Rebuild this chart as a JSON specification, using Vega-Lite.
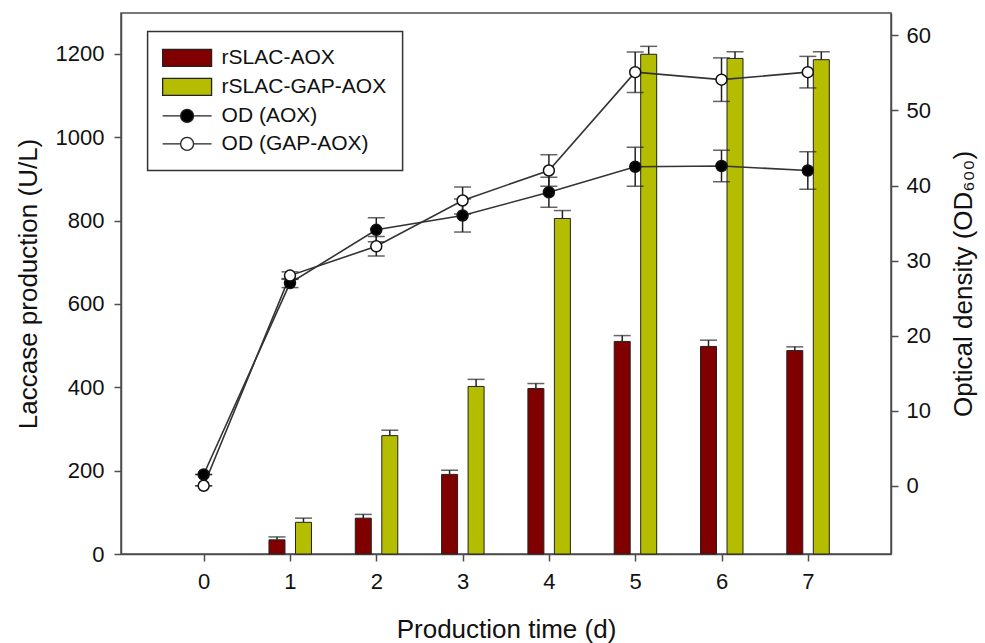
{
  "$schema": "https://vega.github.io/schema/vega-lite/v6.json",
  "width": 770,
  "height": 541,
  "autosize": {"type": "none"},
  "padding": {"left": 121, "top": 13, "right": 94, "bottom": 89},
  "background": "white",
  "config": {
    "font": "Liberation Sans",
    "view": {"stroke": "#4d4d4d", "strokeWidth": 1.5},
    "legend": {"strokeWidth": 1.5},
    "axis": {
      "domainColor": "#4d4d4d", "domainWidth": 1.5,
      "tickColor": "#4d4d4d", "tickWidth": 1.5, "tickSize": 7,
      "labelFont": "Liberation Sans", "labelFontSize": 22, "labelColor": "#111",
      "titleFont": "Liberation Sans", "titleFontSize": 26, "titleFontWeight": "normal", "titleColor": "#111",
      "grid": false, "labelPadding": 8
    }
  },
  "datasets": {
    "bars": [
      {"day": 1, "series": "rSLAC-AOX", "val": 34, "hi": 41},
      {"day": 2, "series": "rSLAC-AOX", "val": 86, "hi": 95},
      {"day": 3, "series": "rSLAC-AOX", "val": 191, "hi": 201},
      {"day": 4, "series": "rSLAC-AOX", "val": 397, "hi": 409},
      {"day": 5, "series": "rSLAC-AOX", "val": 510, "hi": 524},
      {"day": 6, "series": "rSLAC-AOX", "val": 498, "hi": 513},
      {"day": 7, "series": "rSLAC-AOX", "val": 488, "hi": 497},
      {"day": 1, "series": "rSLAC-GAP-AOX", "val": 76, "hi": 86},
      {"day": 2, "series": "rSLAC-GAP-AOX", "val": 284, "hi": 297},
      {"day": 3, "series": "rSLAC-GAP-AOX", "val": 402, "hi": 419},
      {"day": 4, "series": "rSLAC-GAP-AOX", "val": 805, "hi": 824},
      {"day": 5, "series": "rSLAC-GAP-AOX", "val": 1199, "hi": 1218},
      {"day": 6, "series": "rSLAC-GAP-AOX", "val": 1189, "hi": 1205},
      {"day": 7, "series": "rSLAC-GAP-AOX", "val": 1186, "hi": 1205}
    ],
    "od": [
      {"day": 0, "series": "OD (AOX)", "od": 1.5, "lo": 1.5, "hi": 1.5},
      {"day": 1, "series": "OD (AOX)", "od": 27.0, "lo": 26.4, "hi": 27.6},
      {"day": 2, "series": "OD (AOX)", "od": 34.1, "lo": 32.5, "hi": 35.7},
      {"day": 3, "series": "OD (AOX)", "od": 36.0, "lo": 33.8, "hi": 38.2},
      {"day": 4, "series": "OD (AOX)", "od": 39.1, "lo": 37.1, "hi": 41.1},
      {"day": 5, "series": "OD (AOX)", "od": 42.5, "lo": 39.9, "hi": 45.1},
      {"day": 6, "series": "OD (AOX)", "od": 42.6, "lo": 40.5, "hi": 44.7},
      {"day": 7, "series": "OD (AOX)", "od": 42.0, "lo": 39.5, "hi": 44.5},
      {"day": 0, "series": "OD (GAP-AOX)", "od": 0.0, "lo": 0.0, "hi": 0.0},
      {"day": 1, "series": "OD (GAP-AOX)", "od": 28.0, "lo": 27.5, "hi": 28.5},
      {"day": 2, "series": "OD (GAP-AOX)", "od": 31.9, "lo": 30.6, "hi": 33.2},
      {"day": 3, "series": "OD (GAP-AOX)", "od": 38.0, "lo": 36.2, "hi": 39.8},
      {"day": 4, "series": "OD (GAP-AOX)", "od": 42.0, "lo": 39.9, "hi": 44.1},
      {"day": 5, "series": "OD (GAP-AOX)", "od": 55.1, "lo": 52.4, "hi": 57.8},
      {"day": 6, "series": "OD (GAP-AOX)", "od": 54.1, "lo": 51.2, "hi": 57.0},
      {"day": 7, "series": "OD (GAP-AOX)", "od": 55.1, "lo": 53.0, "hi": 57.2}
    ]
  },
  "layer": [
    {
      "data": {"name": "bars"},
      "encoding": {
        "x": {"field": "day", "type": "quantitative",
              "scale": {"domain": [-0.9, 7.906], "nice": false, "zero": false},
              "axis": {"values": [0,1,2,3,4,5,6,7], "format": "d", "title": "Production time (d)", "titlePadding": 24, "labelPadding": 10}},
        "y": {"field": "val", "type": "quantitative",
              "scale": {"domain": [0, 1298], "nice": false, "zero": false},
              "axis": {"values": [0,200,400,600,800,1000,1200], "format": "d", "title": "Laccase production (U/L)", "titlePadding": 14, "labelPadding": 10}}
      },
      "layer": [
        {"transform": [{"filter": "datum.series === 'rSLAC-AOX'"}],
         "mark": {"type": "rule", "xOffset": -13, "color": "#222", "strokeWidth": 1.5},
         "encoding": {"y2": {"field": "hi"}}},
        {"transform": [{"filter": "datum.series === 'rSLAC-GAP-AOX'"}],
         "mark": {"type": "rule", "xOffset": 13.5, "color": "#222", "strokeWidth": 1.5},
         "encoding": {"y2": {"field": "hi"}}},
        {"transform": [{"filter": "datum.series === 'rSLAC-AOX'"}],
         "mark": {"type": "bar", "width": 16, "xOffset": -13, "stroke": "#222", "strokeWidth": 1},
         "encoding": {
           "fill": {"field": "series", "type": "nominal",
                    "scale": {"domain": ["rSLAC-AOX", "rSLAC-GAP-AOX", "OD (AOX)", "OD (GAP-AOX)"],
                              "range": ["#800000", "#b5bd00", "#000000", "#ffffff"]},
                    "legend": {
                      "title": null, "orient": "none", "legendX": 26.6, "legendY": 18.4,
                      "strokeColor": "#333", "fillColor": "white", "padding": 16,
                      "labelFontSize": 21, "labelFont": "Liberation Sans", "labelColor": "#111",
                      "symbolSize": 289, "symbolOffset": 13, "labelOffset": 24, "rowPadding": 6,
                      "symbolStrokeColor": "#222", "symbolStrokeWidth": 1.3, "symbolOpacity": 1,
                      "labelLimit": 400,
                      "encode": {"symbols": {"update": {"shape": {"signal": "(datum.value === 'OD (AOX)' || datum.value === 'OD (GAP-AOX)') ? 'M-2.88,0H-0.76M0.76,0H2.88M0.76,0A0.76,0.76 0 1,1 -0.76,0A0.76,0.76 0 1,1 0.76,0Z' : 'M-2.88,-1H2.88V1H-2.88Z'"}}}}
                    }}
         }},
        {"transform": [{"filter": "datum.series === 'rSLAC-GAP-AOX'"}],
         "mark": {"type": "bar", "width": 16, "xOffset": 13.5, "stroke": "#222", "strokeWidth": 1},
         "encoding": {"fill": {"field": "series", "type": "nominal"}}},
        {"transform": [{"filter": "datum.series === 'rSLAC-AOX'"}],
         "mark": {"type": "tick", "orient": "horizontal", "size": 17, "thickness": 1.5, "xOffset": -13, "color": "#222"},
         "encoding": {"y": {"field": "hi", "type": "quantitative"}}},
        {"transform": [{"filter": "datum.series === 'rSLAC-GAP-AOX'"}],
         "mark": {"type": "tick", "orient": "horizontal", "size": 17, "thickness": 1.5, "xOffset": 13.5, "color": "#222"},
         "encoding": {"y": {"field": "hi", "type": "quantitative"}}}
      ]
    },
    {
      "data": {"name": "od"},
      "encoding": {
        "x": {"field": "day", "type": "quantitative"},
        "y": {"field": "od", "type": "quantitative",
              "scale": {"domain": [-9.09, 62.98], "nice": false, "zero": false},
              "axis": {"orient": "right", "values": [0,10,20,30,40,50,60], "format": "d", "title": "Optical density (OD₆₀₀)", "titleAngle": 270, "titleBaseline": "top", "titlePadding": 20}}
      },
      "layer": [
        {"mark": {"type": "line", "color": "#333", "strokeWidth": 1.6},
         "encoding": {"detail": {"field": "series", "type": "nominal"}}},
        {"mark": {"type": "rule", "color": "#222", "strokeWidth": 1.5},
         "encoding": {"y": {"field": "lo", "type": "quantitative"}, "y2": {"field": "hi"}}},
        {"mark": {"type": "tick", "orient": "horizontal", "size": 17, "thickness": 1.5, "color": "#222"},
         "encoding": {"y": {"field": "lo", "type": "quantitative"}}},
        {"mark": {"type": "tick", "orient": "horizontal", "size": 17, "thickness": 1.5, "color": "#222"},
         "encoding": {"y": {"field": "hi", "type": "quantitative"}}},
        {"mark": {"type": "point", "shape": "circle", "filled": true, "size": 120, "stroke": "#111", "strokeWidth": 1.5, "opacity": 1},
         "encoding": {"fill": {"field": "series", "type": "nominal"}}}
      ]
    }
  ],
  "resolve": {"scale": {"y": "independent"}}
}
